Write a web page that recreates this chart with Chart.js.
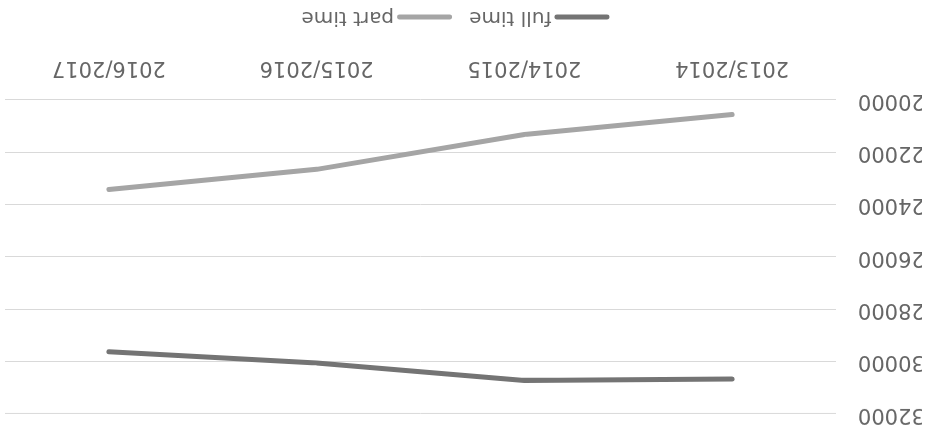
<!DOCTYPE html>
<html>
<head>
<meta charset="utf-8">
<script src="https://cdn.jsdelivr.net/npm/chart.js@4.4.1/dist/chart.umd.min.js"></script>
<style>
  html, body { margin: 0; padding: 0; background: #fff; }
  #wrap { width: 929px; height: 428px; transform: rotate(180deg); }
  canvas { display: block; }
</style>
</head>
<body>
<div id="wrap"><canvas id="chart" width="929" height="428"></canvas></div>
<script>
const years = ['2013/2014', '2014/2015', '2015/2016', '2016/2017'];
const fullTime = [30660, 30720, 30050, 29620];
const partTime = [20550, 21320, 22650, 23420];
const yTicks = [20000, 22000, 24000, 26000, 28000, 30000, 32000];

const textColor = '#666666';
const fontFamily = '"DejaVu Sans", sans-serif';
const fontSize = 21;

// legend drawn under the axis, line sample + text
const bottomLegend = {
    id: 'bottomLegend',
    afterDraw(chart) {
        const ctx = chart.ctx;
        const items = chart.data.datasets;
        const lineLen = 55, gap = 3, spacing = 17;
        ctx.save();
        ctx.font = '20px ' + fontFamily;
        let total = 0;
        items.forEach((ds, i) => {
            total += lineLen + gap + ctx.measureText(ds.label).width + (i ? spacing : 0);
        });
        let x = chart.width / 2 - total / 2 + 9;
        const y = chart.height - 17;
        items.forEach(ds => {
            ctx.strokeStyle = ds.borderColor;
            ctx.lineWidth = 5;
            ctx.lineCap = 'round';
            ctx.beginPath();
            ctx.moveTo(x + 2.5, y);
            ctx.lineTo(x + lineLen - 2.5, y);
            ctx.stroke();
            x += lineLen + gap;
            ctx.fillStyle = textColor;
            ctx.textBaseline = 'middle';
            ctx.fillText(ds.label, x, y);
            x += ctx.measureText(ds.label).width + spacing;
        });
        ctx.restore();
    }
};

const ctx = document.getElementById('chart').getContext('2d');
new Chart(ctx, {
    type: 'line',
    data: {
        labels: years,
        datasets: [{
            label: 'full time',
            data: fullTime,
            borderColor: '#747474',
            borderWidth: 5,
            borderCapStyle: 'round',
            borderJoinStyle: 'round',
            pointRadius: 0,
            tension: 0
        }, {
            label: 'part time',
            data: partTime,
            borderColor: '#a5a5a5',
            borderWidth: 5,
            borderCapStyle: 'round',
            borderJoinStyle: 'round',
            pointRadius: 0,
            tension: 0
        }]
    },
    options: {
        responsive: false,
        animation: false,
        devicePixelRatio: 1,
        layout: {
            padding: { left: 7, right: 5, top: 14, bottom: 57 }
        },
        plugins: {
            legend: { display: false },
            tooltip: { enabled: false }
        },
        scales: {
            x: {
                offset: true,
                grid: { display: false },
                border: { display: false },
                afterFit: axis => {
                    axis.height = 43;
                    axis.paddingLeft = 0;
                    axis.paddingRight = 0;
                },
                ticks: {
                    color: textColor,
                    padding: 12,
                    maxRotation: 0,
                    font: { family: fontFamily, size: fontSize }
                }
            },
            y: {
                min: yTicks[0],
                max: yTicks[yTicks.length - 1],
                grid: { color: '#d9d9d9', lineWidth: 1, drawTicks: false },
                border: { display: false },
                afterBuildTicks: axis => {
                    axis.ticks = yTicks.map(v => ({ value: v }));
                },
                afterFit: axis => {
                    axis.width = 86;
                    axis.paddingTop = 0;
                    axis.paddingBottom = 0;
                },
                ticks: {
                    color: textColor,
                    padding: 22,
                    font: { family: fontFamily, size: fontSize },
                    callback: v => String(v)
                }
            }
        }
    },
    plugins: [bottomLegend]
});
</script>
</body>
</html>
